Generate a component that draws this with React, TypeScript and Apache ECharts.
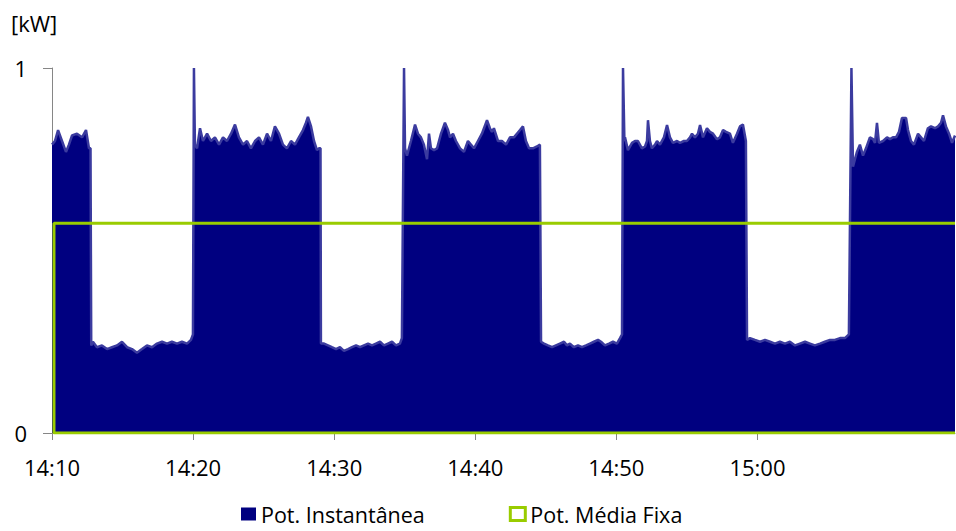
import { useEffect, useRef } from "react";
import * as echarts from "echarts";

// minutes after 14:10
const instMinutes = [
  // high A
  0.0, 0.21, 0.43, 0.71, 0.99, 1.2, 1.42, 1.77, 2.13, 2.41, 2.62, 2.73,
  // low A
  2.78, 2.9, 3.19, 3.54, 3.9, 4.25, 4.61, 4.96, 5.32, 5.67, 6.02, 6.38, 6.73, 7.09, 7.44, 7.8, 8.15, 8.5, 8.86, 9.21, 9.57, 9.85, 9.99,
  // spike + high B
  10.06, 10.13, 10.28, 10.49, 10.7, 10.99, 11.27, 11.55, 11.84, 12.12, 12.4, 12.69, 12.97, 13.25, 13.54, 13.82, 14.1, 14.39, 14.67, 14.95,
  15.24, 15.52, 15.8, 16.09, 16.37, 16.65, 16.94, 17.22, 17.5, 17.79, 18.0, 18.14, 18.36, 18.57, 18.78, 18.92, 19.03,
  // low B
  19.06, 19.28, 19.56, 19.84, 20.13, 20.41, 20.69, 20.98, 21.26, 21.55, 21.83, 22.11, 22.4, 22.68, 22.96, 23.25, 23.53, 23.81, 24.1, 24.38, 24.66, 24.8,
  // spike + high C
  24.95, 25.02, 25.16, 25.44, 25.73, 25.94, 26.15, 26.36, 26.58, 26.72, 26.86, 27.07, 27.29, 27.57, 27.85, 28.07, 28.21, 28.42, 28.63, 28.92,
  29.2, 29.48, 29.69, 29.91, 30.19, 30.47, 30.83, 31.04, 31.18, 31.32, 31.61, 31.89, 32.18, 32.46, 32.74, 32.95, 33.17, 33.38, 33.59, 33.81,
  34.09, 34.37, 34.58,
  // low C
  34.66, 34.87, 35.15, 35.44, 35.72, 36.0, 36.29, 36.5, 36.71, 36.99, 37.28, 37.56, 37.85, 38.13, 38.41, 38.7, 38.91, 39.19, 39.48, 39.76, 40.04, 40.26, 40.4,
  // spike + high D
  40.47, 40.57, 40.61, 40.82, 41.11, 41.32, 41.53, 41.81, 42.03, 42.17, 42.24, 42.38, 42.52, 42.74, 42.88, 43.09, 43.37, 43.59, 43.8, 44.01,
  44.3, 44.51, 44.79, 45.0, 45.22, 45.36, 45.57, 45.78, 45.93, 46.14, 46.42, 46.63, 46.85, 47.13, 47.34, 47.56, 47.77, 48.05, 48.26, 48.55,
  48.76, 48.97, 49.18,
  // low D
  49.26, 49.47, 49.82, 50.18, 50.53, 50.89, 51.24, 51.59, 51.95, 52.3, 52.66, 53.01, 53.37, 53.72, 54.07, 54.43, 54.78, 55.14, 55.49, 55.85, 56.2, 56.48,
  // spike + high E
  56.66, 56.77, 56.91, 57.05, 57.26, 57.48, 57.69, 57.97, 58.19, 58.33, 58.47, 58.61, 58.9, 59.18, 59.39, 59.6, 59.82, 60.03, 60.24, 60.53,
  60.67, 60.88, 61.09, 61.38, 61.59, 61.8, 62.08, 62.3, 62.58, 62.8, 63.01, 63.15, 63.36, 63.58, 63.79, 64.0,
];

const instKW = [
  // high A
  0.79, 0.8, 0.83, 0.8, 0.77, 0.79, 0.815, 0.82, 0.81, 0.83, 0.78, 0.78,
  // low A
  0.24, 0.25, 0.235, 0.24, 0.23, 0.235, 0.24, 0.25, 0.235, 0.23, 0.22, 0.23, 0.24, 0.235, 0.245, 0.25, 0.245, 0.25, 0.245, 0.25, 0.245, 0.255, 0.27,
  // spike + high B
  1.0, 0.79, 0.78, 0.835, 0.8, 0.82, 0.8, 0.81, 0.79, 0.81, 0.8, 0.82, 0.845, 0.81, 0.79, 0.8, 0.78, 0.8, 0.81, 0.79,
  0.82, 0.8, 0.84, 0.82, 0.79, 0.78, 0.8, 0.79, 0.81, 0.83, 0.85, 0.866, 0.84, 0.8, 0.775, 0.78, 0.78,
  // low B
  0.245, 0.245, 0.24, 0.235, 0.23, 0.235, 0.225, 0.23, 0.235, 0.24, 0.235, 0.24, 0.245, 0.24, 0.245, 0.25, 0.24, 0.245, 0.25, 0.24, 0.245, 0.26,
  // spike + high C
  1.0, 0.78, 0.76, 0.8, 0.845, 0.82, 0.81, 0.79, 0.75, 0.82, 0.78, 0.775, 0.78, 0.82, 0.85, 0.83, 0.81, 0.82, 0.8, 0.78,
  0.77, 0.8, 0.79, 0.78, 0.8, 0.82, 0.857, 0.835, 0.825, 0.835, 0.8, 0.8, 0.79, 0.81, 0.81, 0.82, 0.83, 0.84, 0.8, 0.78,
  0.78, 0.785, 0.79,
  // low C
  0.25, 0.245, 0.24, 0.235, 0.24, 0.245, 0.25, 0.24, 0.245, 0.235, 0.24, 0.235, 0.24, 0.245, 0.25, 0.255, 0.25, 0.24, 0.245, 0.25, 0.245, 0.26, 0.27,
  // spike + high D
  1.0, 0.8, 0.81, 0.775, 0.795, 0.8, 0.8, 0.78, 0.785, 0.8, 0.857, 0.8, 0.78, 0.79, 0.8, 0.79, 0.81, 0.844, 0.81, 0.795,
  0.8, 0.795, 0.8, 0.8, 0.81, 0.82, 0.81, 0.82, 0.844, 0.81, 0.835, 0.825, 0.82, 0.805, 0.81, 0.83, 0.825, 0.82, 0.795, 0.82,
  0.84, 0.845, 0.8,
  // low D
  0.255, 0.26, 0.255, 0.25, 0.255, 0.25, 0.245, 0.25, 0.245, 0.25, 0.24, 0.245, 0.25, 0.245, 0.24, 0.245, 0.25, 0.255, 0.255, 0.26, 0.26, 0.27,
  // spike + high E
  1.0, 0.73, 0.75, 0.77, 0.79, 0.76, 0.78, 0.81, 0.805, 0.795, 0.85, 0.795, 0.8, 0.81, 0.805, 0.81, 0.81, 0.825, 0.863, 0.863,
  0.83, 0.8, 0.79, 0.82, 0.81, 0.8, 0.835, 0.84, 0.835, 0.84, 0.85, 0.87, 0.84, 0.82, 0.795, 0.815,
];

const avgMinutes = [64, 0.14, 0.14, 64];
const avgKW = [0, 0, 0.575, 0.575];

const xTickMinutes = [0, 10, 20, 30, 40, 50];
const xTickLabels = ["14:10", "14:20", "14:30", "14:40", "14:50", "15:00"];

const seriesNames = ["Pot. Instantânea", "Pot. Média Fixa"];
const unitLabel = "[kW]";

const FONT = "'Open Sans', 'Noto Sans', sans-serif";

export default function App() {
  const ref = useRef<HTMLDivElement>(null);

  useEffect(() => {
    if (!ref.current) return;
    const chart = echarts.init(ref.current, undefined, { renderer: "svg" });
    const instData = instMinutes.map((m, i) => [m, instKW[i]]);
    const avgData = avgMinutes.map((m, i) => [m, avgKW[i]]);
    chart.setOption({
      animation: false,
      backgroundColor: "#ffffff",
      textStyle: { fontFamily: FONT },
      grid: { left: 52, right: 1, top: 68, bottom: 98 },
      graphic: [
        {
          type: "text",
          x: 11,
          y: 23,
          style: {
            text: unitLabel,
            fontFamily: FONT,
            fontSize: 22,
            fill: "#000",
            verticalAlign: "middle",
          },
        },
      ],
      legend: {
        left: 236,
        top: 498,
        itemWidth: 15,
        itemHeight: 13,
        itemGap: 84,
        textStyle: { fontFamily: FONT, fontSize: 21.5, color: "#000" },
        data: [
          { name: seriesNames[0], icon: "rect", itemStyle: { color: "#000080" } },
          {
            name: seriesNames[1],
            icon: "rect",
            itemStyle: { color: "#ffffff", borderColor: "#99cc00", borderWidth: 3 },
          },
        ],
      },
      xAxis: {
        type: "value",
        min: 0,
        max: 64,
        offset: 2,
        axisLine: { show: true, lineStyle: { color: "#868686", width: 1 } },
        axisTick: {
          show: true,
          inside: false,
          length: 7,
          customValues: xTickMinutes,
          lineStyle: { color: "#868686" },
        },
        splitLine: { show: false },
        axisLabel: {
          customValues: xTickMinutes,
          margin: 21,
          fontFamily: FONT,
          fontSize: 22,
          color: "#000",
          formatter: (v: number) => {
            const i = xTickMinutes.indexOf(Math.round(v));
            return i >= 0 ? xTickLabels[i] : "";
          },
        },
      },
      yAxis: {
        type: "value",
        min: 0,
        max: 1,
        interval: 1,
        axisLine: { show: true, lineStyle: { color: "#868686", width: 1 } },
        axisTick: { show: true, inside: false, length: 9, lineStyle: { color: "#868686" } },
        splitLine: { show: false },
        axisLabel: { margin: 25, fontFamily: FONT, fontSize: 22, color: "#000" },
      },
      series: [
        {
          name: seriesNames[0],
          type: "line",
          data: instData,
          symbol: "none",
          smooth: false,
          lineStyle: { color: "#3b3b9f", width: 2.5 },
          itemStyle: { color: "#000080" },
          areaStyle: { color: "#000080", opacity: 1 },
          z: 2,
        },
        {
          name: seriesNames[1],
          type: "line",
          data: avgData,
          symbol: "none",
          lineStyle: { color: "#99cc00", width: 3 },
          itemStyle: { color: "#99cc00" },
          z: 3,
        },
      ],
    });
    return () => chart.dispose();
  }, []);

  return <div ref={ref} style={{ width: 956, height: 531, position: "absolute", left: 0, top: 0 }} />;
}
